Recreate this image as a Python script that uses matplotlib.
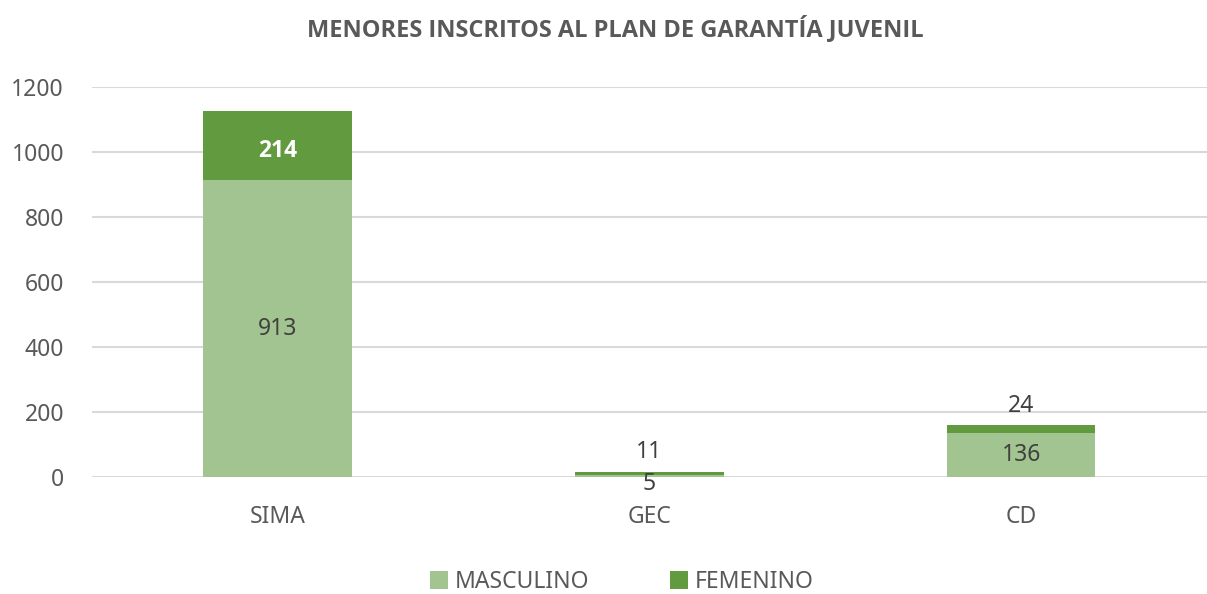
import matplotlib
matplotlib.use('Agg')
import matplotlib.pyplot as plt
import numpy as np

# datos
categorias = ['SIMA', 'GEC', 'CD']
masculino = [913, 5, 136]
femenino = [214, 11, 24]
ticks_y = [0, 200, 400, 600, 800, 1000, 1200]

plt.rcParams['font.family'] = ['Noto Sans', 'DejaVu Sans']
negrita = ['Open Sans', 'DejaVu Sans']
gris = '#595959'
verde_claro = '#A1C490'
verde_oscuro = '#629A3F'
fs = 16.5

fig = plt.figure(figsize=(12.07, 5.94), dpi=100)
ax = fig.add_axes([0.076, 0.197, 0.924, 0.6565])

x = np.arange(len(categorias))
ancho = 0.4
b1 = ax.bar(x, masculino, ancho, color=verde_claro, label='MASCULINO', zorder=2)
b2 = ax.bar(x, femenino, ancho, bottom=masculino, color=verde_oscuro, label='FEMENINO', zorder=2)

ax.set_xlim(-0.5, 2.5)
ax.set_ylim(0, 1200)
ax.set_yticks(ticks_y)
ax.set_xticks(x)
ax.set_xticklabels(categorias)
ax.tick_params(axis='both', length=0, labelsize=fs, colors=gris)
ax.tick_params(axis='y', pad=20)
ax.tick_params(axis='x', pad=20)
for s in ax.spines.values():
    s.set_visible(False)
ax.yaxis.grid(True, color='#D9D9D9', linewidth=1.5, zorder=0)
ax.set_axisbelow(True)

# etiquetas de datos
for i in range(len(categorias)):
    m = masculino[i]
    f = femenino[i]
    if m > 50:
        ax.text(x[i], m / 2, str(m), ha='center', va='center', fontsize=fs, color='#404040')
    else:
        ax.annotate(str(m), (x[i], 0), xytext=(0, -5), textcoords='offset points',
                    ha='center', va='center', fontsize=fs, color='#404040')
    if f > 100:
        ax.annotate(str(f), (x[i], m + f / 2), xytext=(0, -4), textcoords='offset points',
                    ha='center', va='center', fontsize=fs, color='white',
                    fontweight='bold', family=negrita)
    else:
        ax.annotate(str(f), (x[i], m + f), xytext=(0, 14), textcoords='offset points',
                    ha='center', va='center', fontsize=fs, color='#404040')

fig.text(0.51, 0.952, 'MENORES INSCRITOS AL PLAN DE GARANTÍA JUVENIL', ha='center', va='center',
         fontsize=17, fontweight='bold', color=gris, family=negrita)

fig.legend(handles=[b1, b2], loc='center', bbox_to_anchor=(0.515, 0.02), ncol=2, frameon=False,
           fontsize=fs, labelcolor=gris, handlelength=0.8, handleheight=0.8,
           handletextpad=0.3, columnspacing=3.5)

plt.savefig('out.png', dpi=100)
